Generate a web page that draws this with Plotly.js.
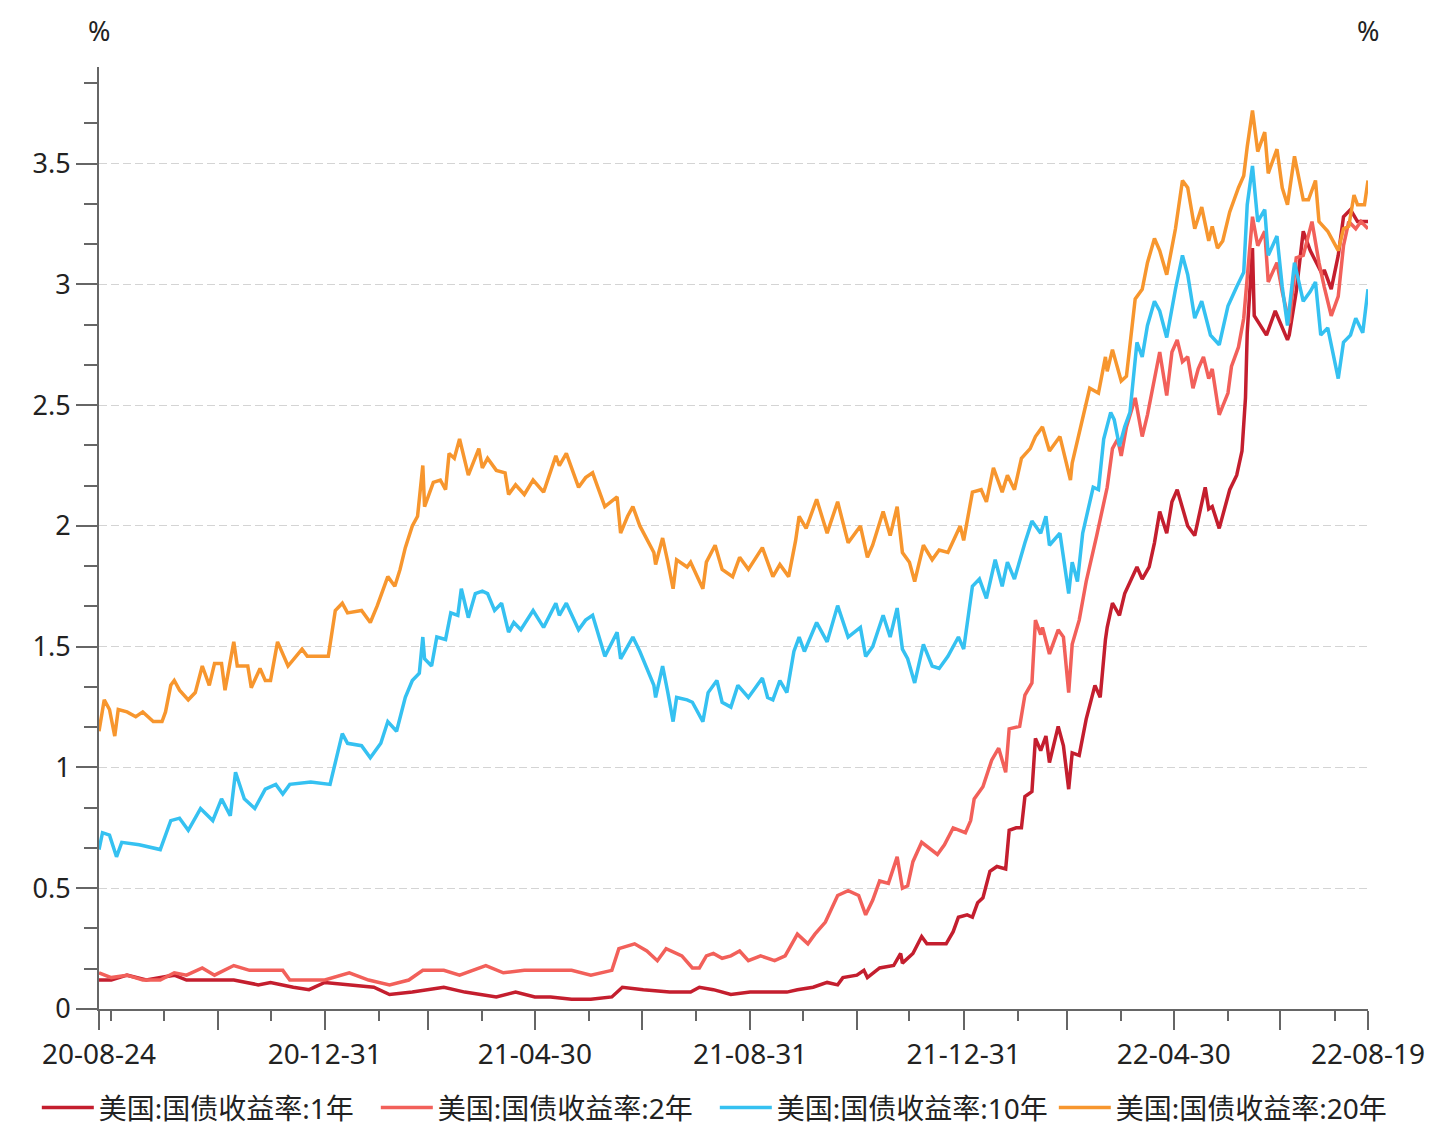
<!DOCTYPE html>
<html>
<head>
<meta charset="utf-8">
<script src="https://cdn.plot.ly/plotly-3.0.1.min.js"></script>
<style>html,body{margin:0;padding:0;background:#fff;}#chart{width:1440px;height:1129px;}</style>
</head>
<body>
<div id="chart"></div>
<script>
// ---- series names ----
const seriesNames = ['美国:国债收益率:1年', '美国:国债收益率:2年', '美国:国债收益率:10年', '美国:国债收益率:20年'];

// ---- 1Y ----
const dates1y = [
'2020-08-24','2020-08-31','2020-09-09','2020-09-20','2020-10-06','2020-10-13','2020-10-29','2020-11-09','2020-11-23','2020-11-30',
'2020-12-13','2020-12-22','2020-12-31','2021-01-14','2021-01-28','2021-02-06','2021-02-19','2021-03-09','2021-03-21','2021-04-08',
'2021-04-19','2021-04-30','2021-05-09','2021-05-21','2021-06-01','2021-06-13','2021-06-19','2021-07-01','2021-07-16','2021-07-28',
'2021-08-02','2021-08-10','2021-08-20','2021-08-31','2021-09-10','2021-09-21','2021-09-27','2021-10-06','2021-10-14','2021-10-20',
'2021-10-23','2021-10-31','2021-11-04','2021-11-06','2021-11-13','2021-11-21','2021-11-25','2021-11-26','2021-12-02','2021-12-07',
'2021-12-10','2021-12-16','2021-12-21','2021-12-25','2021-12-28','2022-01-02','2022-01-05','2022-01-08','2022-01-11','2022-01-15',
'2022-01-19','2022-01-24','2022-01-26','2022-01-30','2022-02-02','2022-02-04','2022-02-08','2022-02-10','2022-02-13','2022-02-16',
'2022-02-18','2022-02-23','2022-02-26','2022-03-01','2022-03-03','2022-03-07','2022-03-11','2022-03-16','2022-03-19','2022-03-22',
'2022-03-23','2022-03-26','2022-03-30','2022-04-02','2022-04-06','2022-04-09','2022-04-12','2022-04-16','2022-04-19','2022-04-22',
'2022-04-26','2022-04-29','2022-05-02','2022-05-05','2022-05-08','2022-05-12','2022-05-15','2022-05-18','2022-05-20','2022-05-22',
'2022-05-26','2022-06-01','2022-06-05','2022-06-08','2022-06-10','2022-06-11','2022-06-14','2022-06-15','2022-06-22','2022-06-27',
'2022-07-04','2022-07-05','2022-07-09','2022-07-13','2022-07-17','2022-07-24','2022-07-25','2022-07-29','2022-08-02','2022-08-05',
'2022-08-09','2022-08-13','2022-08-19'];
const yield1y = [
0.12,0.12,0.14,0.12,0.14,0.12,0.12,0.12,0.10,0.11,
0.09,0.08,0.11,0.10,0.09,0.06,0.07,0.09,0.07,0.05,
0.07,0.05,0.05,0.04,0.04,0.05,0.09,0.08,0.07,0.07,
0.09,0.08,0.06,0.07,0.07,0.07,0.08,0.09,0.11,0.10,
0.13,0.14,0.16,0.13,0.17,0.18,0.23,0.19,0.23,0.30,
0.27,0.27,0.27,0.32,0.38,0.39,0.38,0.44,0.46,0.57,
0.59,0.58,0.74,0.75,0.75,0.88,0.90,1.12,1.07,1.13,
1.02,1.17,1.09,0.91,1.06,1.05,1.20,1.34,1.29,1.53,
1.58,1.68,1.63,1.72,1.78,1.83,1.78,1.83,1.93,2.06,
1.97,2.10,2.15,2.07,2.00,1.96,2.06,2.16,2.07,2.08,
1.99,2.15,2.21,2.31,2.53,2.80,3.15,2.87,2.79,2.89,
2.77,2.79,2.97,3.22,3.14,3.04,3.06,2.98,3.12,3.28,
3.31,3.26,3.26];

// ---- 2Y ----
const dates2y = [
'2020-08-24','2020-08-31','2020-09-09','2020-09-18','2020-09-28','2020-10-06','2020-10-13','2020-10-22','2020-10-29','2020-11-09',
'2020-11-18','2020-11-30','2020-12-07','2020-12-11','2020-12-17','2020-12-31','2021-01-14','2021-01-25','2021-02-06','2021-02-17',
'2021-02-25','2021-03-09','2021-03-18','2021-04-02','2021-04-12','2021-04-24','2021-05-09','2021-05-21','2021-06-01','2021-06-13',
'2021-06-17','2021-06-26','2021-07-03','2021-07-09','2021-07-14','2021-07-23','2021-07-29','2021-08-02','2021-08-06','2021-08-10',
'2021-08-15','2021-08-20','2021-08-25','2021-08-30','2021-09-06','2021-09-14','2021-09-20','2021-09-27','2021-10-03','2021-10-07',
'2021-10-13','2021-10-17','2021-10-20','2021-10-26','2021-11-01','2021-11-05','2021-11-09','2021-11-13','2021-11-18','2021-11-23',
'2021-11-26','2021-11-29','2021-12-02','2021-12-07','2021-12-12','2021-12-16','2021-12-20','2021-12-25','2022-01-01','2022-01-04',
'2022-01-06','2022-01-11','2022-01-16','2022-01-20','2022-01-24','2022-01-26','2022-02-01','2022-02-04','2022-02-08','2022-02-10',
'2022-02-13','2022-02-14','2022-02-18','2022-02-23','2022-02-26','2022-03-01','2022-03-03','2022-03-07','2022-03-11','2022-03-14',
'2022-03-17','2022-03-20','2022-03-23','2022-03-26','2022-03-29','2022-03-31','2022-04-03','2022-04-08','2022-04-12','2022-04-15',
'2022-04-19','2022-04-22','2022-04-26','2022-04-29','2022-05-02','2022-05-05','2022-05-08','2022-05-11','2022-05-14','2022-05-17',
'2022-05-20','2022-05-22','2022-05-26','2022-05-31','2022-06-02','2022-06-06','2022-06-09','2022-06-11','2022-06-14','2022-06-17',
'2022-06-21','2022-06-23','2022-06-28','2022-07-01','2022-07-05','2022-07-09','2022-07-13','2022-07-18','2022-07-22','2022-07-25',
'2022-07-29','2022-08-02','2022-08-05','2022-08-08','2022-08-12','2022-08-15','2022-08-19'];
const yield2y = [
0.15,0.13,0.14,0.12,0.12,0.15,0.14,0.17,0.14,0.18,
0.16,0.16,0.16,0.12,0.12,0.12,0.15,0.12,0.10,0.12,
0.16,0.16,0.14,0.18,0.15,0.16,0.16,0.16,0.14,0.16,
0.25,0.27,0.24,0.20,0.25,0.22,0.17,0.17,0.22,0.23,
0.21,0.22,0.24,0.20,0.22,0.20,0.22,0.31,0.27,0.31,
0.36,0.42,0.47,0.49,0.47,0.39,0.45,0.53,0.52,0.63,
0.50,0.51,0.61,0.69,0.66,0.64,0.68,0.75,0.73,0.78,
0.87,0.92,1.03,1.08,0.98,1.16,1.17,1.30,1.35,1.61,
1.55,1.58,1.47,1.57,1.54,1.31,1.51,1.61,1.77,1.86,
1.96,2.06,2.16,2.32,2.36,2.29,2.41,2.53,2.37,2.46,
2.61,2.72,2.54,2.72,2.77,2.68,2.70,2.57,2.65,2.70,
2.61,2.65,2.46,2.55,2.66,2.74,2.86,3.04,3.28,3.16,
3.22,3.01,3.09,2.97,2.84,3.11,3.12,3.26,3.09,2.99,
2.87,2.95,3.16,3.26,3.23,3.26,3.23];

// ---- 10Y ----
const dates10y = [
'2020-08-24','2020-08-26','2020-08-30','2020-09-03','2020-09-06','2020-09-16','2020-09-28','2020-10-04','2020-10-09','2020-10-14',
'2020-10-21','2020-10-28','2020-11-02','2020-11-07','2020-11-10','2020-11-15','2020-11-21','2020-11-27','2020-12-03','2020-12-07',
'2020-12-11','2020-12-23','2021-01-03','2021-01-10','2021-01-13','2021-01-21','2021-01-26','2021-02-01','2021-02-05','2021-02-10',
'2021-02-15','2021-02-19','2021-02-23','2021-02-25','2021-02-26','2021-03-02','2021-03-05','2021-03-10','2021-03-13','2021-03-17',
'2021-03-19','2021-03-23','2021-03-27','2021-03-31','2021-04-03','2021-04-07','2021-04-11','2021-04-15','2021-04-18','2021-04-22',
'2021-04-29','2021-05-05','2021-05-12','2021-05-14','2021-05-18','2021-05-25','2021-05-29','2021-06-02','2021-06-09','2021-06-16',
'2021-06-18','2021-06-22','2021-06-25','2021-06-29','2021-07-07','2021-07-08','2021-07-12','2021-07-15','2021-07-18','2021-07-20',
'2021-07-26','2021-07-29','2021-08-04','2021-08-07','2021-08-12','2021-08-15','2021-08-20','2021-08-24','2021-08-30','2021-09-07',
'2021-09-10','2021-09-13','2021-09-17','2021-09-21','2021-09-25','2021-09-28','2021-10-01','2021-10-08','2021-10-14','2021-10-20',
'2021-10-26','2021-11-02','2021-11-05','2021-11-09','2021-11-15','2021-11-19','2021-11-23','2021-11-26','2021-11-29','2021-12-03',
'2021-12-08','2021-12-13','2021-12-17','2021-12-22','2021-12-28','2021-12-31','2022-01-05','2022-01-09','2022-01-13','2022-01-18',
'2022-01-22','2022-01-25','2022-01-29','2022-02-04','2022-02-08','2022-02-13','2022-02-16','2022-02-18','2022-02-24','2022-03-01',
'2022-03-03','2022-03-06','2022-03-09','2022-03-15','2022-03-18','2022-03-21','2022-03-25','2022-03-27','2022-03-30','2022-04-02',
'2022-04-05','2022-04-09','2022-04-12','2022-04-15','2022-04-19','2022-04-22','2022-04-26','2022-05-01','2022-05-05','2022-05-08',
'2022-05-12','2022-05-16','2022-05-21','2022-05-26','2022-05-31','2022-06-05','2022-06-09','2022-06-11','2022-06-14','2022-06-17',
'2022-06-21','2022-06-23','2022-06-28','2022-07-01','2022-07-04','2022-07-08','2022-07-13','2022-07-17','2022-07-20','2022-07-23',
'2022-07-27','2022-08-02','2022-08-05','2022-08-09','2022-08-12','2022-08-16','2022-08-19'];
const yield10y = [
0.66,0.73,0.72,0.63,0.69,0.68,0.66,0.78,0.79,0.74,
0.83,0.78,0.87,0.80,0.98,0.87,0.83,0.91,0.93,0.89,
0.93,0.94,0.93,1.14,1.10,1.09,1.04,1.10,1.19,1.15,
1.29,1.36,1.39,1.54,1.45,1.42,1.54,1.53,1.64,1.63,
1.74,1.62,1.72,1.73,1.72,1.65,1.68,1.56,1.60,1.57,
1.65,1.58,1.68,1.63,1.68,1.57,1.61,1.63,1.46,1.56,
1.45,1.50,1.54,1.48,1.34,1.29,1.42,1.31,1.19,1.29,
1.28,1.27,1.19,1.31,1.36,1.27,1.25,1.34,1.29,1.37,
1.29,1.28,1.36,1.31,1.48,1.54,1.48,1.60,1.52,1.67,
1.54,1.58,1.46,1.50,1.63,1.54,1.66,1.49,1.45,1.35,
1.51,1.42,1.41,1.46,1.54,1.49,1.75,1.78,1.70,1.86,
1.75,1.85,1.78,1.93,2.02,1.97,2.04,1.92,1.97,1.72,
1.85,1.77,1.97,2.16,2.15,2.36,2.47,2.44,2.33,2.41,
2.47,2.76,2.70,2.83,2.93,2.89,2.78,2.98,3.12,3.04,
2.86,2.93,2.79,2.75,2.91,2.99,3.05,3.33,3.49,3.26,
3.31,3.12,3.20,2.99,2.83,3.09,2.93,2.97,3.01,2.79,
2.82,2.61,2.76,2.79,2.86,2.80,2.98];

// ---- 20Y ----
const dates20y = [
'2020-08-24','2020-08-27','2020-08-30','2020-09-02','2020-09-04','2020-09-09','2020-09-14','2020-09-18','2020-09-24','2020-09-29',
'2020-10-01','2020-10-04','2020-10-06','2020-10-09','2020-10-14','2020-10-18','2020-10-22','2020-10-26','2020-10-29','2020-11-02',
'2020-11-04','2020-11-09','2020-11-11','2020-11-17','2020-11-19','2020-11-24','2020-11-27','2020-11-30','2020-12-04','2020-12-10',
'2020-12-18','2020-12-21','2021-01-02','2021-01-06','2021-01-10','2021-01-13','2021-01-21','2021-01-26','2021-01-30','2021-02-05',
'2021-02-09','2021-02-12','2021-02-15','2021-02-19','2021-02-22','2021-02-25','2021-02-26','2021-03-03','2021-03-07','2021-03-10',
'2021-03-12','2021-03-15','2021-03-18','2021-03-23','2021-03-29','2021-03-31','2021-04-03','2021-04-08','2021-04-13','2021-04-15',
'2021-04-19','2021-04-24','2021-04-29','2021-05-05','2021-05-12','2021-05-14','2021-05-18','2021-05-25','2021-05-29','2021-06-02',
'2021-06-05','2021-06-09','2021-06-16','2021-06-18','2021-06-22','2021-06-25','2021-06-29','2021-07-07','2021-07-08','2021-07-12',
'2021-07-15','2021-07-18','2021-07-20','2021-07-26','2021-07-28','2021-08-04','2021-08-06','2021-08-11','2021-08-15','2021-08-21',
'2021-08-25','2021-08-30','2021-09-07','2021-09-13','2021-09-17','2021-09-22','2021-09-26','2021-09-28','2021-10-02','2021-10-08',
'2021-10-14','2021-10-20','2021-10-26','2021-11-02','2021-11-06','2021-11-09','2021-11-15','2021-11-19','2021-11-23','2021-11-26',
'2021-11-30','2021-12-03','2021-12-08','2021-12-13','2021-12-17','2021-12-22','2021-12-29','2021-12-31','2022-01-05','2022-01-10',
'2022-01-13','2022-01-17','2022-01-22','2022-01-25','2022-01-29','2022-02-02','2022-02-07','2022-02-10','2022-02-14','2022-02-18',
'2022-02-24','2022-03-02','2022-03-03','2022-03-09','2022-03-13','2022-03-18','2022-03-22','2022-03-23','2022-03-26','2022-03-31',
'2022-04-03','2022-04-08','2022-04-12','2022-04-15','2022-04-19','2022-04-22','2022-04-26','2022-05-01','2022-05-05','2022-05-08',
'2022-05-12','2022-05-16','2022-05-20','2022-05-22','2022-05-25','2022-05-28','2022-06-01','2022-06-06','2022-06-09','2022-06-11',
'2022-06-14','2022-06-17','2022-06-21','2022-06-23','2022-06-28','2022-07-01','2022-07-04','2022-07-08','2022-07-13','2022-07-16',
'2022-07-20','2022-07-22','2022-07-27','2022-08-02','2022-08-05','2022-08-08','2022-08-11','2022-08-13','2022-08-17','2022-08-19'];
const yield20y = [
1.15,1.28,1.24,1.13,1.24,1.23,1.21,1.23,1.19,1.19,
1.23,1.34,1.36,1.32,1.28,1.31,1.42,1.34,1.43,1.43,
1.32,1.52,1.42,1.42,1.33,1.41,1.36,1.36,1.52,1.42,
1.49,1.46,1.46,1.65,1.68,1.64,1.65,1.60,1.67,1.79,
1.75,1.82,1.91,2.00,2.04,2.25,2.08,2.18,2.19,2.15,
2.30,2.28,2.36,2.21,2.32,2.24,2.28,2.23,2.22,2.13,
2.17,2.13,2.19,2.14,2.29,2.25,2.30,2.16,2.20,2.22,
2.16,2.08,2.12,1.97,2.04,2.08,2.00,1.89,1.84,1.95,
1.85,1.74,1.86,1.83,1.85,1.74,1.85,1.92,1.82,1.79,
1.87,1.82,1.91,1.79,1.84,1.79,1.94,2.04,1.99,2.11,
1.97,2.10,1.93,2.00,1.87,1.92,2.06,1.96,2.08,1.89,
1.85,1.77,1.92,1.86,1.90,1.89,2.00,1.94,2.14,2.15,
2.10,2.24,2.14,2.21,2.15,2.28,2.32,2.37,2.41,2.31,
2.37,2.19,2.26,2.44,2.57,2.55,2.70,2.64,2.73,2.60,
2.62,2.94,2.98,3.09,3.19,3.14,3.04,3.23,3.43,3.40,
3.23,3.32,3.18,3.24,3.15,3.18,3.30,3.40,3.45,3.57,
3.72,3.55,3.63,3.46,3.56,3.40,3.33,3.53,3.35,3.35,
3.43,3.26,3.22,3.14,3.23,3.24,3.37,3.33,3.33,3.43];

const seriesDates = [dates1y, dates2y, dates10y, dates20y];
const seriesValues = [yield1y, yield2y, yield10y, yield20y];
const seriesColors = ['#C41E2E', '#F2605A', '#35C1F1', '#F7962E'];

// ---- axis ticks ----
const xRange = ['2020-08-24', '2022-08-19'];
const xTickVals = ['2020-08-24','2020-10-31','2020-12-31','2021-02-28','2021-04-30','2021-06-30','2021-08-31','2021-10-31','2021-12-31','2022-02-28','2022-04-30','2022-06-30','2022-08-19'];
const xTickText = ['20-08-24','','20-12-31','','21-04-30','','21-08-31','','21-12-31','','22-04-30','','22-08-19'];
const xMinorVals = ['2020-08-31','2020-09-30','2020-11-30','2021-01-31','2021-03-31','2021-05-31','2021-07-31','2021-09-30','2021-11-30','2022-01-31','2022-03-31','2022-05-31','2022-07-31'];
const yTickVals = [0, 0.5, 1, 1.5, 2, 2.5, 3, 3.5];
const yRange = [0, 3.9];
const unitLabel = '%';

const FONT = '"Noto Sans", "Noto Sans CJK SC", sans-serif';
const AXC = '#666666';

const traces = seriesNames.map((name, i) => ({
  type: 'scatter', mode: 'lines', name: name,
  x: seriesDates[i], y: seriesValues[i],
  line: {color: seriesColors[i], width: 3.5},
  hoverinfo: 'skip'
}));

function yAxisCfg(extra) {
  return Object.assign({
    range: yRange, tickmode: 'array', tickvals: yTickVals,
    ticks: 'outside', ticklen: 21, tickwidth: 2, tickcolor: AXC,
    showline: true, linecolor: AXC, linewidth: 2,
    zeroline: false, fixedrange: true,
    tickfont: {size: 27, color: '#222', family: FONT},
    minor: {tickmode: 'linear', tick0: 0, dtick: 0.5/3, ticks: 'outside', ticklen: 13, tickwidth: 2, tickcolor: AXC, showgrid: false}
  }, extra);
}

const layout = {
  width: 1440, height: 1129,
  margin: {l: 99, r: 72, t: 67, b: 120, pad: 0, autoexpand: false},
  paper_bgcolor: '#ffffff', plot_bgcolor: '#ffffff',
  font: {family: FONT, size: 26, color: '#222'},
  showlegend: true,
  legend: {orientation: 'h', x: -0.049, xanchor: 'left', y: -0.105, yanchor: 'middle',
           font: {size: 28, family: FONT, color: '#222'}, itemwidth: 52, tracegroupgap: 0,
           entrywidth: 272, entrywidthmode: 'pixels'},
  xaxis: {
    type: 'date', range: xRange, tickmode: 'array', tickvals: xTickVals, ticktext: xTickText,
    ticks: 'outside', ticklen: 19, tickwidth: 2, tickcolor: AXC,
    showline: true, linecolor: AXC, linewidth: 2, showgrid: false, zeroline: false, fixedrange: true,
    tickfont: {size: 28, color: '#222', family: FONT},
    minor: {tickmode: 'array', tickvals: xMinorVals, ticks: 'outside', ticklen: 10, tickwidth: 2, tickcolor: AXC, showgrid: false}
  },
  yaxis: yAxisCfg({showgrid: true, gridcolor: '#d4d4d4', gridwidth: 1, griddash: '8px,4px'}),
  yaxis2: yAxisCfg({overlaying: 'y', side: 'right', anchor: 'x', showgrid: false, matches: 'y'}),
  annotations: [
    {text: unitLabel, xref: 'paper', yref: 'paper', x: 0, y: 1.039, xanchor: 'center', yanchor: 'middle', showarrow: false, font: {size: 27, color: '#222', family: FONT}},
    {text: unitLabel, xref: 'paper', yref: 'paper', x: 1, y: 1.039, xanchor: 'center', yanchor: 'middle', showarrow: false, font: {size: 27, color: '#222', family: FONT}}
  ],
  hovermode: false
};

Plotly.newPlot('chart', traces, layout, {staticPlot: true, displayModeBar: false});
</script>
</body>
</html>
